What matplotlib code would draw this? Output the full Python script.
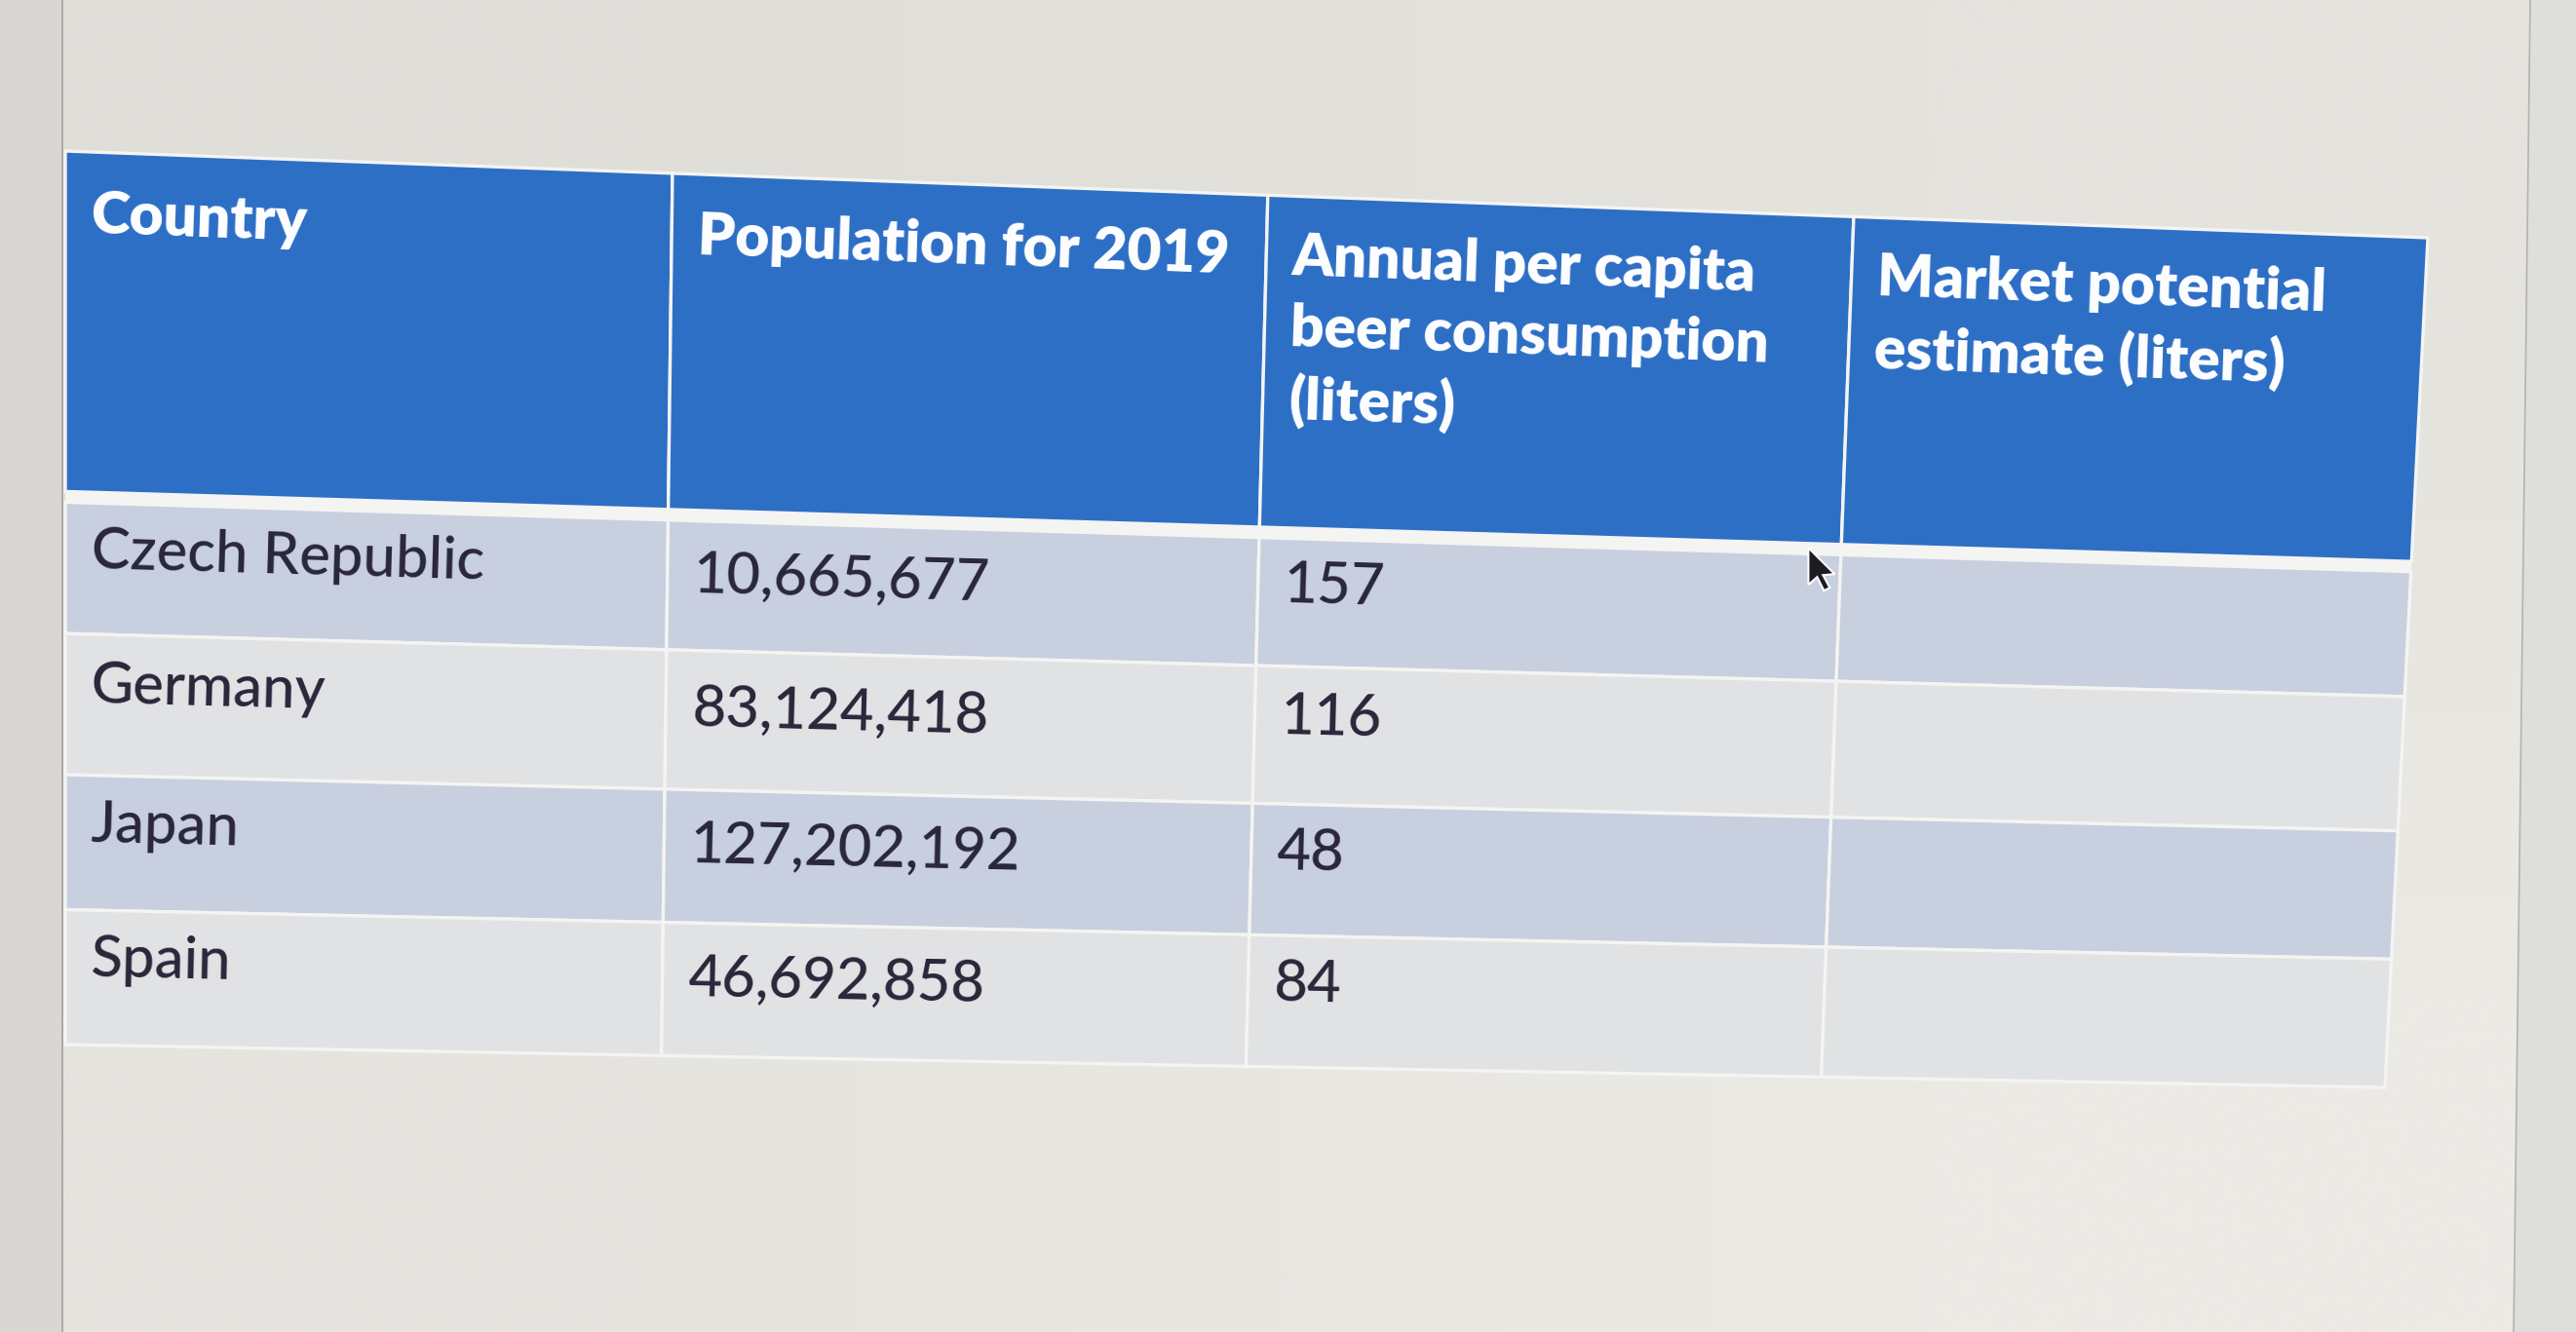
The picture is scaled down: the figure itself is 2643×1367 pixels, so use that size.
import numpy as np
import matplotlib.pyplot as plt
from matplotlib.patches import Polygon

# table content
headers = ["Country", "Population for 2019",
           "Annual per capita\nbeer consumption\n(liters)",
           "Market potential\nestimate (liters)"]
countries = ["Czech Republic", "Germany", "Japan", "Spain"]
population = [10665677, 83124418, 127202192, 46692858]
beer_per_capita = [157, 116, 48, 84]
market_potential = ["", "", "", ""]

W, H = 2643, 1367

# photo of a monitor -> table seen in perspective, corners in pixel coords
TL = np.array([67.0, 155.0])
TR = np.array([2491.0, 244.0])
BL = np.array([67.0, 1072.0])
BR = np.array([2447.0, 1116.0])
col_edges = [0, 0.257, 0.509, 0.757, 1.0]
row_edges = [0, 0.381, 0.540, 0.698, 0.849, 1.0]
header_gap = 0.012
pad = 0.011
text_v = [0.37, 0.42, 0.37, 0.37]  # vertical position of text inside a body cell


def warp(u, v):
    top = (1 - u) * TL + u * TR
    bot = (1 - u) * BL + u * BR
    return (1 - v) * top + v * bot


def slope_angle(u0, u1, v):
    p0, p1 = warp(u0, v), warp(u1, v)
    return -np.degrees(np.arctan2(p1[1] - p0[1], p1[0] - p0[0]))


def cell(u0, u1, v0, v1, color):
    pts = [warp(u0, v0), warp(u1, v0), warp(u1, v1), warp(u0, v1)]
    ax.add_patch(Polygon(pts, closed=True, facecolor=color,
                         edgecolor="#f4f4f2", linewidth=2.4, zorder=3))


plt.rcParams['font.family'] = ['Lato', 'DejaVu Sans']

fig = plt.figure(figsize=(W / 100, H / 100), dpi=100)
ax = fig.add_axes([0, 0, 1, 1])

# screen background with a little light falloff
bg = np.array([[[224, 222, 217], [229, 227, 222]],
               [[230, 228, 223], [236, 234, 229]]]) / 255
ax.imshow(bg, extent=(0, W, H, 0), interpolation='bilinear', aspect='auto', zorder=0)

# monitor edges
ax.add_patch(Polygon([(0, 0), (64, 0), (64, H), (0, H)], facecolor="#d8d7d4", zorder=1))
ax.plot([64, 64], [0, H], color="#a3a29f", lw=1.2, zorder=2)
ax.add_patch(Polygon([(2596, 0), (W, 0), (W, H), (2579, H)], facecolor="#dededc", zorder=1))
ax.plot([2596, 2579], [0, H], color="#b4b3b0", lw=1.2, zorder=2)

# table base (white grid lines show through)
ax.add_patch(Polygon([TL, TR, BR, BL], closed=True, facecolor="#f4f4f2", zorder=2))

blue = "#2e6fc6"
bands = ["#c8cfdf", "#e1e2e4"]

# header
for j, title in enumerate(headers):
    u0, u1 = col_edges[j], col_edges[j + 1]
    cell(u0, u1, row_edges[0], row_edges[1], blue)
    for k, line in enumerate(title.split("\n")):
        v = 0.071 + k * 0.082
        p = warp(u0 + pad, v)
        ax.text(p[0], p[1], line, color="white", fontsize=43.5, fontweight="heavy",
                ha="left", va="center", rotation=slope_angle(u0, u1, v),
                rotation_mode="anchor", zorder=5)

# body rows
rows = list(zip(countries, [f"{p:,}" for p in population],
                [str(b) for b in beer_per_capita], market_potential))
for i, values in enumerate(rows):
    v0 = row_edges[i + 1] + (header_gap if i == 0 else 0)
    v1 = row_edges[i + 2]
    for j, txt in enumerate(values):
        u0, u1 = col_edges[j], col_edges[j + 1]
        cell(u0, u1, v0, v1, bands[i % 2])
        if txt:
            v = v0 + text_v[j] * (v1 - v0)
            p = warp(u0 + pad, v)
            ax.text(p[0], p[1], txt, color="#29263a", fontsize=43, fontweight="medium",
                    ha="left", va="center", rotation=slope_angle(u0, u1, v),
                    rotation_mode="anchor", zorder=5)

# mouse pointer resting on the grid line
tip = warp(0.743, 0.386)
arrow = np.array([[0, 0], [0, 38], [9, 30], [16, 44], [22, 41], [15, 28], [27, 27]])
ax.add_patch(Polygon(arrow + tip, closed=True, facecolor="#1c1c22",
                     edgecolor="white", linewidth=1.5, zorder=6))

ax.set_xlim(0, W)
ax.set_ylim(H, 0)
ax.axis('off')

fig.savefig("out.png", dpi=100)
